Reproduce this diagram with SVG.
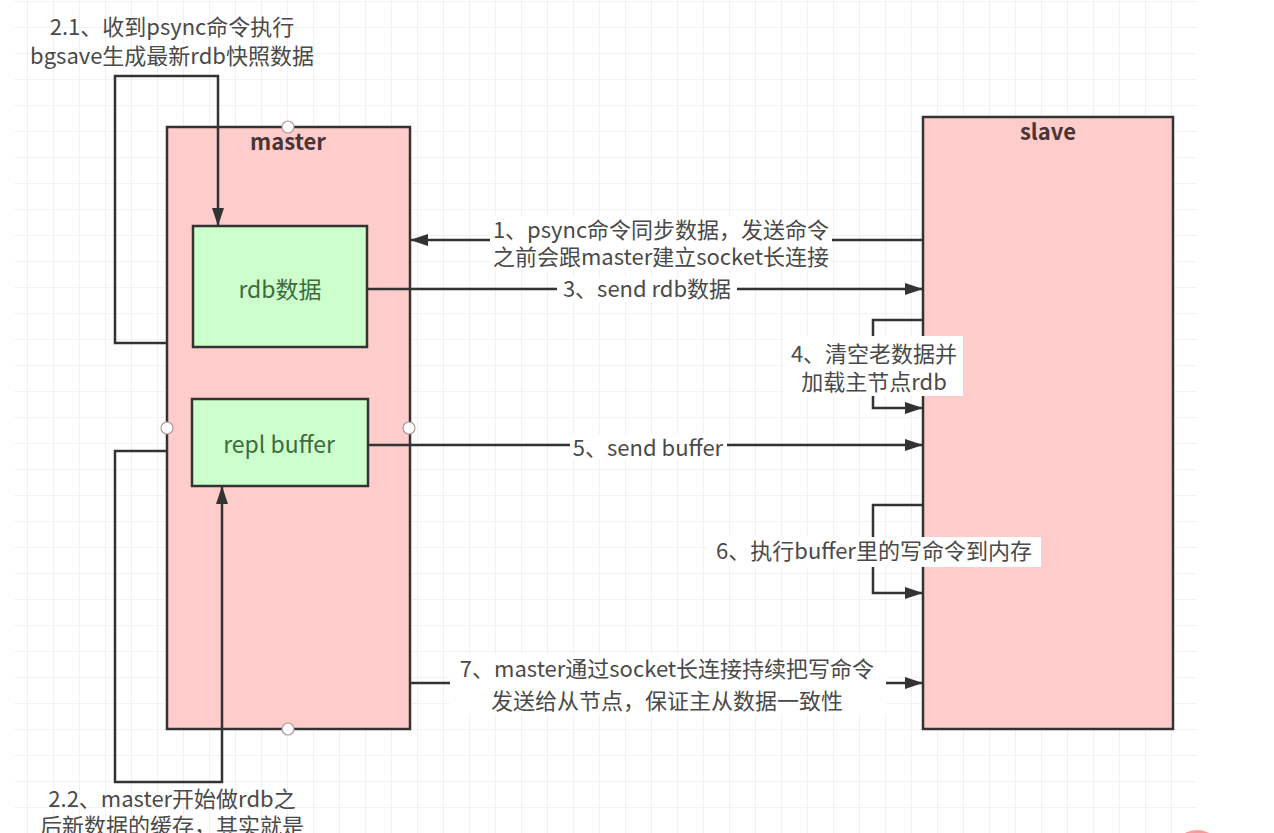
<svg xmlns="http://www.w3.org/2000/svg" width="1274" height="833" viewBox="0 0 1274 833">
<style>
  text { font-family: "Noto Sans CJK SC", "Noto Sans", sans-serif; }
  .lbl { font-size: 22px; fill: #4a4a4a; text-anchor: middle; }
  .title { font-size: 22px; font-weight: bold; fill: #4a3535; text-anchor: middle; }
  .box { font-size: 23px; fill: #3f6b3f; text-anchor: middle; }
  .edge { fill: none; stroke: #333333; stroke-width: 2.5; }
  .big { fill: #ffcccc; stroke: #333333; stroke-width: 2.5; }
  .small { fill: #ccffcc; stroke: #333333; stroke-width: 2.5; }
  .port { fill: #ffffff; stroke: #b39999; stroke-width: 1.2; }
  .bg { fill: #ffffff; }
</style>
<defs>
  <pattern id="grid" x="1" y="1" width="26" height="26" patternUnits="userSpaceOnUse">
    <path d="M26 0 L0 0 L0 26" fill="none" stroke="#e8e8e8" stroke-width="1.2"/>
  </pattern>
  <marker id="arr" markerWidth="18" markerHeight="12" refX="17" refY="6" orient="auto" markerUnits="userSpaceOnUse">
    <path d="M0 0 L18 6 L0 12 Z" fill="#333333"/>
  </marker>
</defs>
<rect width="1274" height="833" fill="#ffffff"/>
<rect x="14" y="0" width="1183" height="833" fill="url(#grid)"/>

<g id="master">
  <rect class="big" x="167" y="127" width="243" height="602"/>
  <text class="title" x="288" y="150">master</text>
  <circle class="port" cx="288" cy="127" r="6"/>
  <circle class="port" cx="288" cy="729" r="6"/>
  <circle class="port" cx="167" cy="428" r="6"/>
  <circle class="port" cx="409" cy="428" r="6"/>
</g>
<g id="slave">
  <rect class="big" x="923" y="117" width="250" height="612"/>
  <text class="title" x="1048" y="140">slave</text>
</g>
<g id="rdb">
  <rect class="small" x="193" y="226" width="174" height="121"/>
  <text class="box" x="280" y="298">rdb数据</text>
</g>
<g id="repl-buffer">
  <rect class="small" x="192" y="399" width="176" height="87"/>
  <text class="box" x="279" y="453">repl buffer</text>
</g>

<g id="connectors">
  <path class="edge" d="M923 240 L411 240" marker-end="url(#arr)"/>
  <path class="edge" d="M367 289 L922 289" marker-end="url(#arr)"/>
  <path class="edge" d="M923 320 L873 320 L873 408 L922 408" marker-end="url(#arr)"/>
  <path class="edge" d="M368 445 L922 445" marker-end="url(#arr)"/>
  <path class="edge" d="M923 505 L873 505 L873 593 L922 593" marker-end="url(#arr)"/>
  <path class="edge" d="M410 683 L922 683" marker-end="url(#arr)"/>
  <path class="edge" d="M167 343 L115 343 L115 76 L218 76 L218 225" marker-end="url(#arr)"/>
  <path class="edge" d="M167 451 L115 451 L115 782 L222 782 L222 487" marker-end="url(#arr)"/>
</g>

<g id="labels">
  <rect class="bg" x="490" y="216" width="342" height="54"/>
  <text class="lbl" x="661" y="238">1、psync命令同步数据，发送命令</text>
  <text class="lbl" x="661" y="265">之前会跟master建立socket长连接</text>

  <rect class="bg" x="557" y="277" width="180" height="25"/>
  <text class="lbl" x="647" y="297">3、send rdb数据</text>

  <rect class="bg" x="783" y="336" width="180" height="60"/>
  <text class="lbl" x="874" y="362">4、清空老数据并</text>
  <text class="lbl" x="874" y="390">加载主节点rdb</text>

  <rect class="bg" x="570" y="434" width="157" height="25"/>
  <text class="lbl" x="648" y="456">5、send buffer</text>

  <rect class="bg" x="707" y="537" width="334" height="30"/>
  <text class="lbl" x="874" y="559">6、执行buffer里的写命令到内存</text>

  <rect class="bg" x="450" y="654" width="436" height="60"/>
  <text class="lbl" x="667" y="677">7、master通过socket长连接持续把写命令</text>
  <text class="lbl" x="667" y="709">发送给从节点，保证主从数据一致性</text>

  <text class="lbl" x="172" y="35">2.1、收到psync命令执行</text>
  <text class="lbl" x="172" y="64">bgsave生成最新rdb快照数据</text>

  <text class="lbl" x="172" y="807">2.2、master开始做rdb之</text>
  <text class="lbl" x="172" y="834">后新数据的缓存，其实就是</text>
</g>
<circle cx="1197" cy="856" r="26" fill="#ff9a9a"/>
</svg>
